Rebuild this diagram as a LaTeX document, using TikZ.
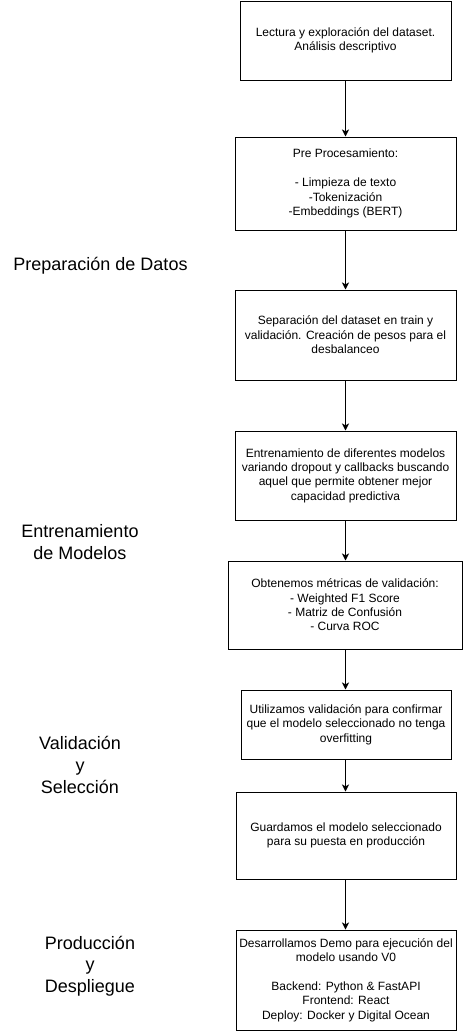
\documentclass[tikz,border=0pt]{standalone}
\usepackage{fontspec}
\setmainfont{Liberation Sans}
\usetikzlibrary{arrows.meta}
\begin{document}
\begin{tikzpicture}[x=1pt,y=-1pt,
  stepbox/.style={draw=black, line width=1pt, align=center, inner sep=0pt,
    font=\fontsize{12}{14.4}\selectfont},
  phase/.style={align=center, inner sep=0pt, font=\fontsize{18}{21.6}\selectfont},
  flow/.style={draw=black, line width=1pt, -{Stealth[length=7pt,width=7pt,inset=1.8pt]}}]
\useasboundingbox (0,0) rectangle (463,1031);
\fill[white] (0,0) rectangle (463,1031);
\coordinate (ax) at (345.5,0);

\node[stepbox, minimum width=211pt, minimum height=79pt] (b1) at (345.5,40.5)
  {Lectura y exploración del dataset.\\Análisis descriptivo};
\node[stepbox, minimum width=221pt, minimum height=93pt] (b2) at (345.5,183.5)
  {Pre Procesamiento:\\[14.4pt]- Limpieza de texto\\-Tokenización\\-Embeddings (BERT)};
\node[stepbox, minimum width=221pt, minimum height=90pt] (b3) at (345.5,335)
  {Separación del dataset en train y\\validación. Creación de pesos para el\\desbalanceo};
\node[stepbox, minimum width=221pt, minimum height=89pt] (b4) at (345.5,475.5)
  {Entrenamiento de diferentes modelos\\variando dropout y callbacks buscando\\aquel que permite obtener mejor\\capacidad predictiva};
\node[stepbox, minimum width=234pt, minimum height=88pt] (b5) at (345,605)
  {Obtenemos métricas de validación:\\- Weighted F1 Score\\- Matriz de Confusión\\- Curva ROC};
\node[stepbox, minimum width=210pt, minimum height=69pt] (b6) at (346,724.5)
  {Utilizamos validación para confirmar\\que el modelo seleccionado no tenga\\overfitting};
\node[stepbox, minimum width=220pt, minimum height=87pt] (b7) at (346,835.5)
  {Guardamos el modelo seleccionado\\para su puesta en producción};
\node[stepbox, minimum width=220pt, minimum height=100pt] (b8) at (346,980)
  {Desarrollamos Demo para ejecución del\\modelo usando V0\\[14.4pt]Backend: Python \& FastAPI\\Frontend: React\\Deploy: Docker y Digital Ocean};

\node[phase] (p1) at (100.5,266) {Preparación de Datos};
\node[phase] (p2) at (80,542) {Entrenamiento\\de Modelos};
\node[phase] (p3) at (80,765) {Validación\\y\\Selección};
\node[phase] (p4) at (90,966) {Producción\\y\\Despliegue};

\draw[flow] (b1.south -| ax) -- (b2.north -| ax);
\draw[flow] (b2.south -| ax) -- (b3.north -| ax);
\draw[flow] (b3.south -| ax) -- (b4.north -| ax);
\draw[flow] (b4.south -| ax) -- (b5.north -| ax);
\draw[flow] (b5.south -| ax) -- (b6.north -| ax);
\draw[flow] (b6.south -| ax) -- (b7.north -| ax);
\draw[flow] (b7.south -| ax) -- (b8.north -| ax);
\end{tikzpicture}
\end{document}
